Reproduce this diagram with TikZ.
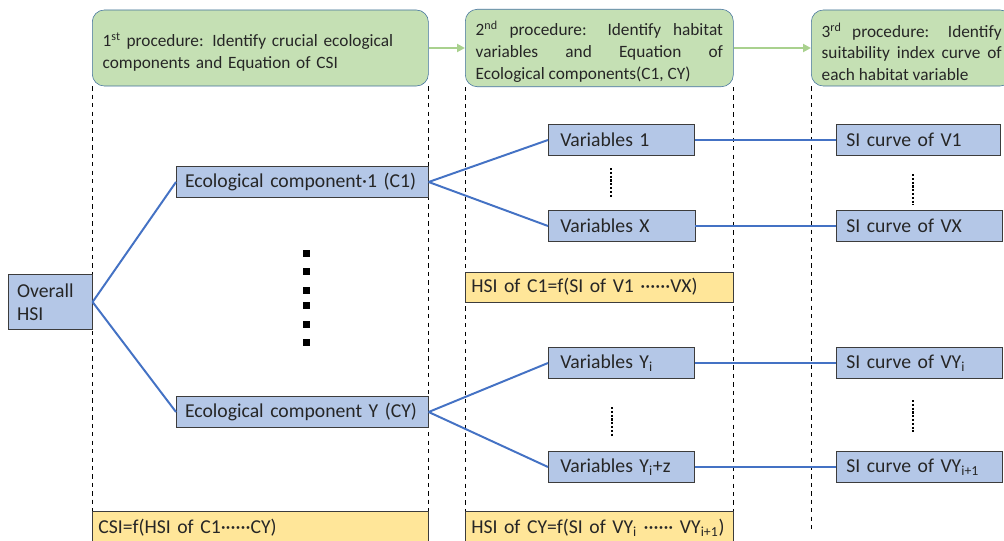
\documentclass[tikz,border=0pt]{standalone}
\usepackage{fontspec}
\setmainfont{Carlito}
\usetikzlibrary{arrows.meta}
\definecolor{procfill}{RGB}{197,224,180}
\definecolor{procline}{RGB}{65,113,156}
\definecolor{boxfill}{RGB}{180,199,231}
\definecolor{eqfill}{RGB}{255,230,153}
\definecolor{branch}{RGB}{68,114,196}
\definecolor{arrowgreen}{RGB}{169,209,142}
\definecolor{darkline}{RGB}{60,60,60}
\definecolor{texto}{RGB}{38,38,38}
\newcommand{\alto}{\rule{0pt}{15.5pt}}

\begin{document}
\begin{tikzpicture}[x=0.025cm, y=-0.025cm,
  every node/.style={font=\fontsize{14pt}{16pt}\selectfont, text=texto},
  proc/.style={draw=procline, fill=procfill, rounded corners=0.3cm,
               minimum height=1.9cm, anchor=west, inner xsep=0.26cm,
               align=justify, font=\fontsize{12.3pt}{15.4pt}\selectfont},
  item/.style={draw=darkline, fill=boxfill, minimum height=0.78cm,
               anchor=west, inner xsep=0.22cm, align=left},
  ecua/.style={draw=darkline, fill=eqfill, minimum height=0.76cm,
               anchor=west, inner xsep=0.15cm, align=left},
  rama/.style={draw=branch, line width=1.4pt},
  flecha/.style={-{Triangle[length=2mm,width=2mm]}, line width=1.4pt,
                 color=arrowgreen},
  puntos/.style={line width=1.5pt, dash pattern=on 1.5pt off 1.2pt},
  guia/.style={dashed, thin, black}]
  \useasboundingbox (0,0) rectangle (1004,540);
  % Procedimientos
  \node[proc, text width=7.88cm, align=left] (proc1) at (92,48)
       {\alto 1\textsuperscript{st} procedure: Identify crucial ecological\\components and Equation of CSI};
  \node[proc, text width=6.18cm] (proc2) at (465,48)
       {\alto 2\textsuperscript{nd} procedure: Identify habitat\linebreak variables and Equation of\linebreak Ecological components(C1, CY)\par};
  \node[proc, text width=4.5cm] (proc3) at (811,48)
       {\alto 3\textsuperscript{rd} procedure: Identify\linebreak suitability index curve of\linebreak each habitat variable\par};
  \draw[flecha] (proc1.east) -- (proc2.west);
  \draw[flecha] (proc2.east) -- (proc3.west);
  % Guias
  \draw[guia] (proc1.south west) -- ++(0,454);
  \draw[guia] (proc1.south east) -- ++(0,454);
  \draw[guia] (proc2.south west) -- ++(0,454);
  \draw[guia] (proc2.south east) -- ++(0,454);
  \draw[guia] (proc3.south west) -- ++(0,444);
  % Componentes
  \node[item, text width=1.66cm, minimum height=1.375cm] (total) at (8,302)
       {Overall\\HSI};
  \node[item, text width=5.86cm] (ec1) at (176,182)
       {Ecological component·1 (C1)};
  \node[item, text width=5.86cm] (ecy) at (176,412)
       {Ecological component Y (CY)};
  \foreach \y in {253,271,290,305,324,342}
    \fill (302.5,\y-3.5) rectangle ++(7,7);
  % Variables
  \node[item, inner xsep=0.3cm, text width=3.05cm] (var1) at (548,140)
       {Variables 1};
  \node[item, inner xsep=0.3cm, text width=3.07cm] (varx) at (548,226)
       {Variables X};
  \node[item, inner xsep=0.3cm, text width=3.05cm] (varyi) at (548,363)
       {Variables Y\textsubscript{i}};
  \node[item, inner xsep=0.3cm, text width=3.05cm] (varyz) at (548,467)
       {Variables Y\textsubscript{i}+z};
  % Curvas SI
  \node[item, inner xsep=0.25cm, text width=3.6cm] (si1) at (836,140)
       {SI curve of V1};
  \node[item, inner xsep=0.25cm, text width=3.65cm] (six) at (836,226)
       {SI curve of VX};
  \node[item, inner xsep=0.25cm, text width=3.65cm] (siyi) at (836,363)
       {SI curve of VY\textsubscript{i}};
  \node[item, inner xsep=0.25cm, text width=3.65cm] (siyz) at (836,467)
       {SI curve of VY\textsubscript{i+1}};
  \draw[puntos] (611,168) -- (611,198);
  \draw[puntos] (913,174) -- (913,205);
  \draw[puntos] (612,407) -- (612,437);
  \draw[puntos] (913,400) -- (913,432);
  % Ecuaciones
  \node[ecua, text width=6.4cm] (eqc1) at (465,287)
       {HSI of C1=f(SI of V1 ······VX)};
  \node[ecua, text width=8.1cm, minimum height=0.85cm] (eqcsi) at (92,528)
       {CSI=f(HSI of C1······CY)};
  \node[ecua, text width=6.4cm, minimum height=0.85cm] (eqcy) at (465,528)
       {HSI of CY=f(SI of VY\textsubscript{i} ······ VY\textsubscript{i+1})};
  % Ramas
  \draw[rama] (total.east) -- (ec1.west);
  \draw[rama] (total.east) -- (ecy.west);
  \draw[rama] (ec1.east) -- (var1.west);
  \draw[rama] (ec1.east) -- (varx.west);
  \draw[rama] (ecy.east) -- (varyi.west);
  \draw[rama] (ecy.east) -- (varyz.west);
  \draw[rama] (var1.east) -- (si1.west);
  \draw[rama] (varx.east) -- (six.west);
  \draw[rama] (varyi.east) -- (siyi.west);
  \draw[rama] (varyz.east) -- (siyz.west);
\end{tikzpicture}
\end{document}
